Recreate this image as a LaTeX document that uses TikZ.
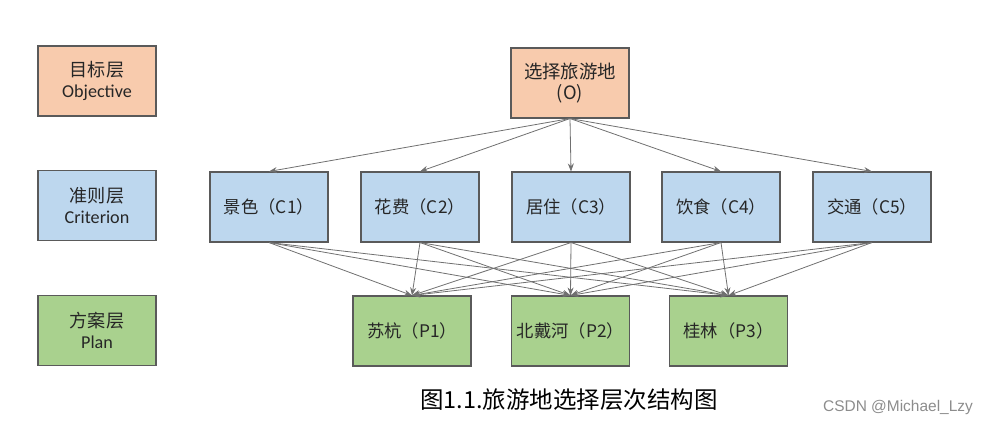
\documentclass[tikz,border=0pt]{standalone}
\usepackage{fontspec}
\setmainfont{Carlito}
\newfontfamily\cjk{Noto Sans CJK SC}
\newfontfamily\wm{Liberation Sans}
\usetikzlibrary{arrows.meta}
\definecolor{orangefill}{HTML}{F8CBAD}
\definecolor{bluefill}{HTML}{BDD7EE}
\definecolor{greenfill}{HTML}{A9D18E}
\definecolor{boxline}{HTML}{5A5A5A}
\definecolor{arrowc}{HTML}{707070}
\definecolor{txt}{HTML}{262626}
\tikzset{
  box/.style={draw=boxline, line width=0.8pt, minimum width=88.5pt, minimum height=52.5pt, inner sep=0pt, text=txt, align=center},
  lvl/.style={box, font=\fontsize{13.6}{15.5}\selectfont},
  obj/.style={box, fill=orangefill, font=\cjk\fontsize{13.8}{15.5}\selectfont},
  crit/.style={box, fill=bluefill, font=\cjk\fontsize{13}{15}\selectfont},
  plan/.style={box, fill=greenfill, font=\cjk\fontsize{13}{15}\selectfont},
  arr/.style={draw=arrowc, line width=0.6pt, -{Stealth[length=6pt,width=4.5pt]}}
}
\begin{document}
\begin{tikzpicture}[x=0.75pt,y=-0.75pt]
\useasboundingbox (0,0) rectangle (989,425);
% level labels
\node[lvl, fill=orangefill] (L1) at (97,81) {{\cjk 目标层}\\Objective};
\node[lvl, fill=bluefill] (L2) at (97,205.5) {{\cjk 准则层}\\Criterion};
\node[lvl, fill=greenfill] (L3) at (97,330.5) {{\cjk 方案层}\\Plan};
% objective
\node[obj] (O) at (570,83) {选择旅游地\\(O)};
% criteria
\node[crit] (C1) at (269,207) {景色（C1）};
\node[crit] (C2) at (420,207) {花费（C2）};
\node[crit] (C3) at (571,207) {居住（C3）};
\node[crit] (C4) at (721,207) {饮食（C4）};
\node[crit] (C5) at (872,207) {交通（C5）};
% plans
\node[plan] (P1) at (412,331) {苏杭（P1）};
\node[plan] (P2) at (570.5,331) {北戴河（P2）};
\node[plan] (P3) at (728.5,331) {桂林（P3）};
% arrows
\foreach \c in {C1,C2,C3,C4,C5}{
  \draw[arr] (O.south) -- (\c.north);
  \foreach \p in {P1,P2,P3}{
    \draw[arr] (\c.south) -- (\p.north);
  }
}
% caption
\node[font=\cjk\fontsize{17.6}{20}\selectfont, text=black] (cap) at (569,400) {图1.1.旅游地选择层次结构图};
\node[font=\wm\fontsize{11.6}{14}\selectfont, text=black!45] (wm) at (898,407) {CSDN @Michael\_Lzy};
\end{tikzpicture}
\end{document}
